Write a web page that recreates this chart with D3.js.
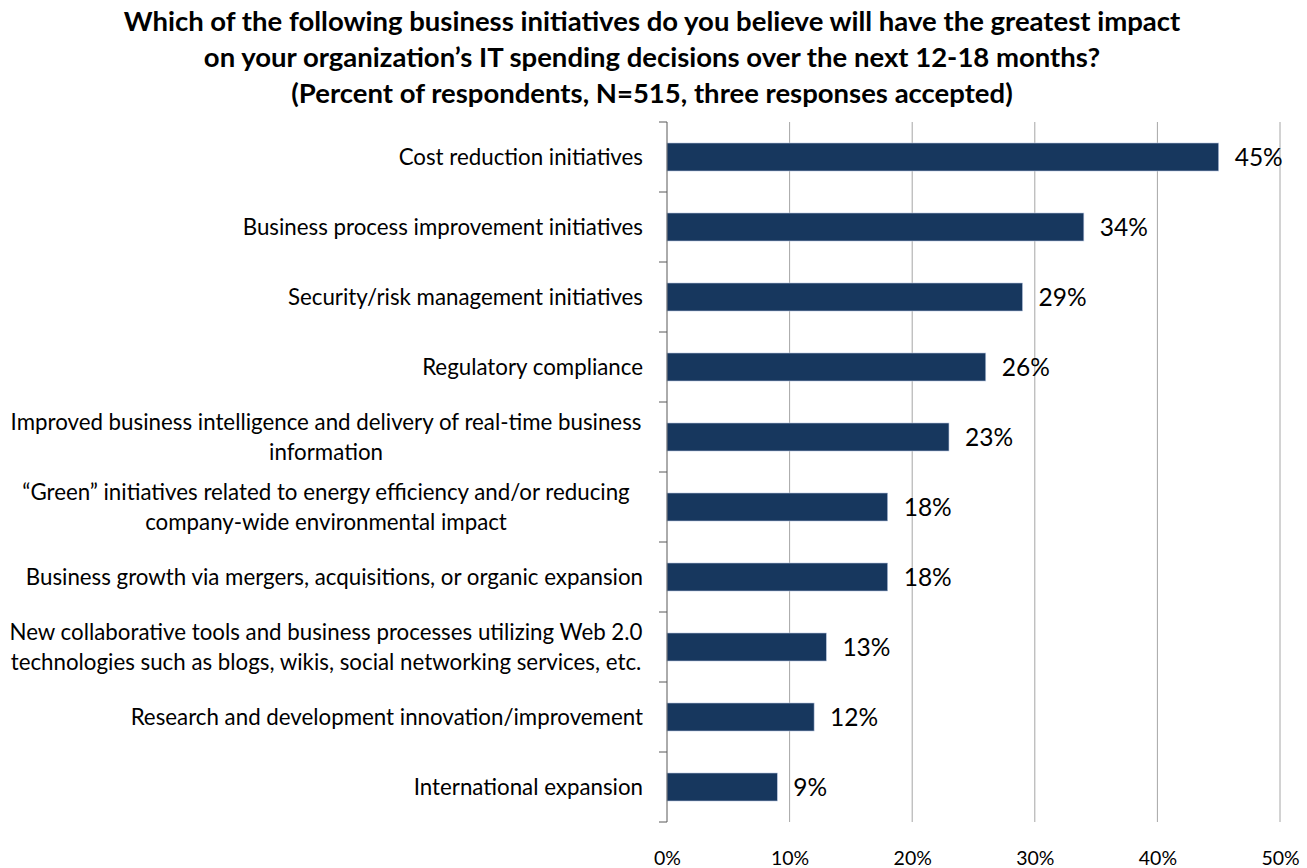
<!DOCTYPE html>
<html>
<head>
<meta charset="utf-8">
<script src="https://cdn.jsdelivr.net/npm/d3@7/dist/d3.min.js"></script>
<style>
  body { margin: 0; background: #fff; }
  text { font-family: Lato, "Open Sans", sans-serif; fill: #000; }
</style>
</head>
<body>
<div id="chart"></div>
<script>
// chart data
var categories = [
    ["Cost reduction initiatives"],
    ["Business process improvement initiatives"],
    ["Security/risk management initiatives"],
    ["Regulatory compliance"],
    ["Improved business intelligence and delivery of real-time business", "information"],
    ["\u201cGreen\u201d initiatives related to energy efficiency and/or reducing", "company-wide environmental impact"],
    ["Business growth via mergers, acquisitions, or organic expansion"],
    ["New collaborative tools and business processes utilizing Web 2.0", "technologies such as blogs, wikis, social networking services, etc."],
    ["Research and development innovation/improvement"],
    ["International expansion"]
];
var values = [45, 34, 29, 26, 23, 18, 18, 13, 12, 9];
var tickValues = [0, 10, 20, 30, 40, 50];
var titleLines = [
    "Which of the following business initiatives do you believe will have the greatest impact",
    "on your organization\u2019s IT spending decisions over the next 12-18 months?",
    "(Percent of respondents, N=515, three responses accepted)"
];

var width = 1307, height = 868;
var margin = { top: 122, right: 27, bottom: 46, left: 667 };
var w = width - margin.left - margin.right,
    h = height - margin.top - margin.bottom;

var svg = d3.select("#chart")
    .append("svg")
    .attr("width", width)
    .attr("height", height);

// title
svg.append("g").selectAll("text")
    .data(titleLines)
    .enter().append("text")
    .attr("x", 652)
    .attr("y", function (d, i) { return 31 + i * 36; })
    .attr("text-anchor", "middle")
    .style("font-size", "27.5px")
    .style("font-weight", "bold")
    .text(function (d) { return d; });

var g = svg.append("g")
    .attr("transform", "translate(" + margin.left + "," + margin.top + ")");

var x = d3.scaleLinear().domain([0, 50]).range([0, w]);
var y = d3.scaleBand().domain(d3.range(categories.length)).range([0, h]).paddingInner(0.6).paddingOuter(0.3);
var yBand = d3.scaleBand().domain(d3.range(categories.length)).range([0, h]);

// gridlines
g.selectAll(".grid")
    .data(tickValues.slice(1))
    .enter().append("line")
    .attr("x1", function (d) { return x(d); })
    .attr("x2", function (d) { return x(d); })
    .attr("y1", 0)
    .attr("y2", h)
    .attr("stroke", "#a6a6a6")
    .attr("stroke-width", 1);

// x axis labels
g.append("g")
    .attr("transform", "translate(0," + (h + 43) + ")")
    .call(d3.axisBottom(x).tickValues(tickValues).tickSize(0).tickFormat(function (d) { return d + "%"; }))
    .call(function (ax) {
        ax.select(".domain").remove();
        ax.selectAll("text").style("font-size", "19.5px").attr("dy", 0).attr("y", 0);
    });

// bars
g.selectAll(".bar")
    .data(values)
    .enter().append("rect")
    .attr("class", "bar")
    .attr("x", x(0))
    .attr("y", function (d, i) { return y(i); })
    .attr("width", function (d) { return x(d) - x(0); })
    .attr("height", y.bandwidth())
    .attr("fill", "#17375e")
    .attr("stroke", "#b9c7e0")
    .attr("stroke-width", 0.6);

// value labels
g.selectAll(".label")
    .data(values)
    .enter().append("text")
    .attr("class", "label")
    .attr("x", function (d) { return x(d) + 16; })
    .attr("y", function (d, i) { return y(i) + y.bandwidth() / 2 + 9; })
    .style("font-size", "24.5px")
    .text(function (d) { return d + "%"; });

// y axis with outward ticks between categories
var yAxis = g.append("g");
yAxis.append("line")
    .attr("x1", 0).attr("x2", 0)
    .attr("y1", 0).attr("y2", h)
    .attr("stroke", "#595959");
yAxis.selectAll(".tick")
    .data(d3.range(categories.length + 1))
    .enter().append("line")
    .attr("x1", -8).attr("x2", 0)
    .attr("y1", function (d) { return d < categories.length ? yBand(d) : h; })
    .attr("y2", function (d) { return d < categories.length ? yBand(d) : h; })
    .attr("stroke", "#595959");

// category labels
var cat = g.selectAll(".cat")
    .data(categories)
    .enter().append("text")
    .attr("class", "cat")
    .attr("text-anchor", "middle")
    .style("font-size", "22.3px")
    .attr("transform", function (d, i) {
        var cy = yBand(i) + yBand.bandwidth() / 2;
        return "translate(-341," + cy + ")";
    });

cat.each(function (lines) {
    var t = d3.select(this);
    var n = lines.length;
    lines.forEach(function (l, j) {
        t.append("tspan")
            .attr("x", 0)
            .attr("y", (j - (n - 1) / 2) * 30 + 8)
            .text(l);
    });
});
// single-line labels are right-aligned to the axis
cat.filter(function (d) { return d.length === 1; })
    .attr("text-anchor", "end")
    .attr("transform", function (d) {
        var idx = categories.indexOf(d);
        return "translate(-24," + (yBand(idx) + yBand.bandwidth() / 2) + ")";
    });
</script>
</body>
</html>
